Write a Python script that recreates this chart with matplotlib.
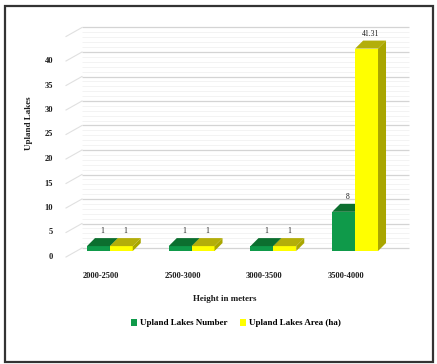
import matplotlib
matplotlib.use("Agg")
import matplotlib.pyplot as plt
from matplotlib.patches import Polygon, Rectangle, Patch
from matplotlib.transforms import ScaledTranslation, blended_transform_factory

# ---- data -------------------------------------------------------------
categories = ["2000-2500", "2500-3000", "3000-3500", "3500-4000"]
lake_number = [1, 1, 1, 8]
lake_area = [1, 1, 1, 41.31]
number_labels = ["1", "1", "1", "8"]
area_labels = ["1", "1", "1", "41.31"]
y_ticks = [0, 5, 10, 15, 20, 25, 30, 35, 40]
y_top = 45

series_names = ["Upland Lakes Number", "Upland Lakes Area (ha)"]

# ---- figure -----------------------------------------------------------
W, H, DPI = 437, 364, 100
FONT = "Liberation Serif"
TXT = "#1c1c1c"
fig = plt.figure(figsize=(W / DPI, H / DPI), dpi=DPI)
fig.patch.set_facecolor("white")

# axes given in pixel units of the canvas
ax_left, ax_right, ax_base, ax_top = 69, 396, 251, 30.5
ax = fig.add_axes([ax_left / W, (H - ax_base) / H,
                   (ax_right - ax_left) / W, (ax_base - ax_top) / H])
ax.set_xlim(-0.5, len(categories) - 0.5)
ax.set_ylim(0, y_top)
ax.axis("off")

# pixels per data unit, used to turn a 3-D depth (pixels) into data offsets
x_ppu = (ax_right - ax_left) / len(categories)
y_ppu = (ax_base - ax_top) / y_top


def px(dx, dy):
    return dx / x_ppu, dy / y_ppu


def shift(dx, dy):
    return ax.transData + ScaledTranslation(dx / DPI, dy / DPI, fig.dpi_scale_trans)


# ---- walls: back-wall gridlines and side-wall diagonals ---------------
wall_dx, wall_dy = 13, 3
side_dx, side_dy = 16, 9
x0, x1 = ax.get_xlim()
for v in range(0, y_top + 1):
    major = v % 5 == 0
    col = "#d4d4d4" if major else "#f1f1f1"
    lw = 0.9 if major else 0.6
    ax.plot([x0, x1], [v, v], color=col, lw=lw, transform=shift(wall_dx, wall_dy),
            zorder=1, clip_on=False, solid_capstyle="butt")
    if major:
        fx, fy = px(-side_dx + wall_dx, -side_dy + wall_dy)
        bx, by = px(wall_dx, wall_dy)
        ax.plot([x0 + fx, x0 + bx], [v + fy, v + by], color="#e0e0e0", lw=0.8,
                zorder=1, clip_on=False)


# ---- 3-D bars -----------------------------------------------------------
bar_w = 0.28
depth_dx, depth_dy = 8, 8
ddx, ddy = px(depth_dx, depth_dy)


def bar3d(xc, h, front, top, side, label):
    xl, xr = xc - bar_w / 2, xc + bar_w / 2
    ax.bar(xc, h, width=bar_w, color=front, edgecolor="none", zorder=3)
    ax.add_patch(Polygon([(xr, 0), (xr, h), (xr + ddx, h + ddy), (xr + ddx, ddy)],
                         closed=True, facecolor=side, edgecolor="none", zorder=3))
    ax.add_patch(Polygon([(xl, h), (xr, h), (xr + ddx, h + ddy), (xl + ddx, h + ddy)],
                         closed=True, facecolor=top, edgecolor="none", zorder=3))
    ax.text(xc + ddx / 2, h + ddy + 0.6, label, ha="center", va="bottom",
            fontsize=5.5, family=FONT, color=TXT, zorder=4)


for i in range(len(categories)):
    bar3d(i - bar_w / 2, lake_number[i], "#0f9a4a", "#0c6f2f", "#0a7c36", number_labels[i])
    bar3d(i + bar_w / 2, lake_area[i], "#ffff00", "#b3ae0a", "#a9a600", area_labels[i])

# ---- axis texts -------------------------------------------------------
ylab_tr = blended_transform_factory(fig.transFigure, ax.transData) + \
    ScaledTranslation(0, -6 / DPI, fig.dpi_scale_trans)
for t in y_ticks:
    ax.text(53 / W, t, str(t), transform=ylab_tr, ha="right", va="center",
            fontsize=6, family=FONT, weight="bold", color=TXT)

xlab_tr = blended_transform_factory(ax.transData, fig.transFigure) + \
    ScaledTranslation(-9 / DPI, 0, fig.dpi_scale_trans)
for i, c in enumerate(categories):
    ax.text(i, 1 - 276 / H, c, transform=xlab_tr, ha="center", va="center",
            fontsize=6, family=FONT, weight="bold", color=TXT)

fig.text(225 / W, 1 - 299 / H, "Height in meters", ha="center", va="center",
         fontsize=6.5, family=FONT, weight="bold", color=TXT)
fig.text(29 / W, 1 - 123 / H, "Upland Lakes", ha="center", va="center",
         rotation=90, fontsize=6.5, family=FONT, weight="bold", color=TXT)

handles = [Patch(facecolor="#0f9a4a", edgecolor="none"),
           Patch(facecolor="#ffff00", edgecolor="none")]
fig.legend(handles, series_names, loc="center", bbox_to_anchor=(0.54, 1 - 323 / H),
           ncol=2, frameon=False, handlelength=0.7, handleheight=0.9,
           handletextpad=0.3, columnspacing=1.4,
           prop={"family": FONT, "size": 6.5, "weight": "bold"})

# outer frame
fig.add_artist(Rectangle((5 / W, 1 - 362 / H), (433 - 5) / W, (362 - 6) / H,
                         transform=fig.transFigure, fill=False,
                         edgecolor="#333333", lw=1.6))

fig.savefig("out.png", dpi=DPI)
